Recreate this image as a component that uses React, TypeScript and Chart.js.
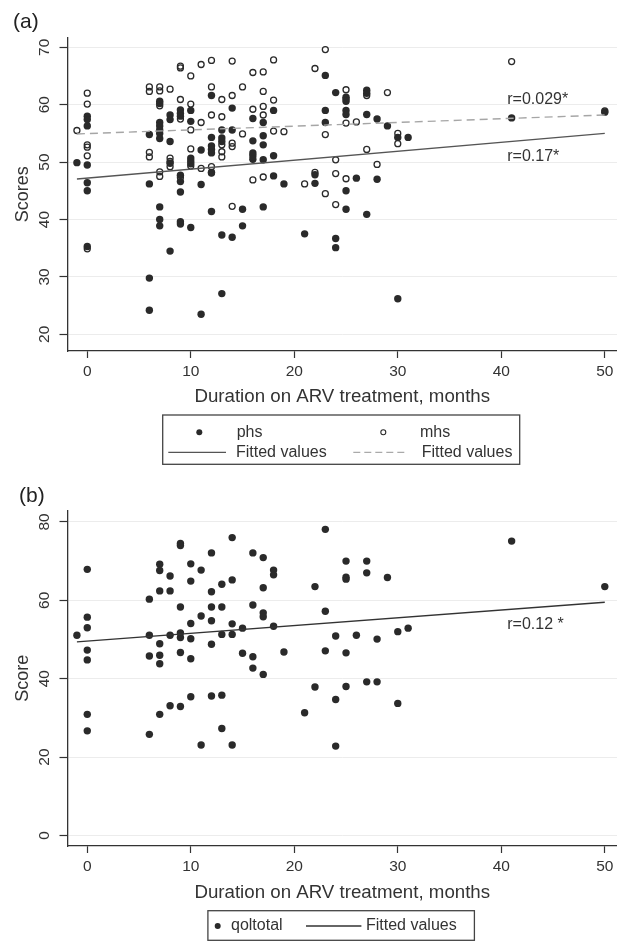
import React, { useEffect, useRef } from "react";
import { Chart, registerables } from "chart.js";

Chart.register(...registerables);

const FONT = '"Liberation Sans", Arial, Helvetica, sans-serif';
Chart.defaults.font.family = FONT;

// ---------- tick labels ----------
const monthTicks = [0, 10, 20, 30, 40, 50];
const scoreTicksA = [20, 30, 40, 50, 60, 70];
const scoreTicksB = [0, 20, 40, 60, 80];

// ---------- data: [month on ARV, scores at that month] ----------
const phs: [number, number[]][] = [
  [-1, [49.9]],
  [0, [58.0, 57.4, 56.3, 49.5, 46.4, 45.0, 35.3]],
  [6, [54.8, 46.2, 29.8, 24.2]],
  [7, [60.6, 60.2, 56.9, 56.3, 55.6, 55.0, 54.1, 42.2, 40.0, 38.9]],
  [8, [58.2, 57.4, 53.6, 49.8, 34.5]],
  [9, [59.1, 58.5, 58.0, 47.7, 46.6, 44.8, 39.6, 39.2]],
  [10, [59.0, 57.1, 50.7, 50.2, 49.7, 38.6]],
  [11, [52.1, 46.1, 23.5]],
  [12, [61.6, 54.3, 52.8, 52.2, 51.6, 48.2, 41.4]],
  [13, [55.6, 54.2, 53.6, 37.3, 27.1]],
  [14, [59.4, 55.6, 36.9]],
  [15, [41.8, 38.9]],
  [16, [57.6, 53.7, 51.6, 51.1, 50.5]],
  [17, [56.9, 54.6, 53.0, 50.4, 42.2]],
  [18, [59.0, 51.1, 47.6]],
  [19, [46.2]],
  [21, [37.5]],
  [22, [47.8, 46.3]],
  [23, [65.1, 59.0, 56.9]],
  [24, [62.1, 36.7, 35.1]],
  [25, [61.3, 60.6, 59.0, 58.3, 45.0, 41.8]],
  [26, [47.2]],
  [27, [62.5, 62.0, 58.3, 40.9]],
  [28, [57.5, 47.0]],
  [29, [56.3]],
  [30, [54.3, 26.2]],
  [31, [54.3]],
  [41, [57.7]],
  [50, [58.7]],
];

const mhs: [number, number[]][] = [
  [-1, [55.5]],
  [0, [62.0, 60.1, 53.0, 52.6, 51.1, 34.9]],
  [6, [63.1, 62.3, 51.7, 50.9]],
  [7, [63.1, 62.4, 59.8, 48.3, 47.5]],
  [8, [62.7, 50.7, 50.1, 49.2]],
  [9, [66.7, 66.4, 60.9, 57.5, 47.3]],
  [10, [65.0, 60.1, 55.6, 52.3, 49.3]],
  [11, [67.0, 56.9, 48.9]],
  [12, [67.7, 63.1, 58.2, 49.2, 48.1]],
  [13, [60.9, 57.9, 53.0, 51.8, 50.9]],
  [14, [67.6, 61.6, 53.3, 52.7, 42.3]],
  [15, [63.1, 54.9]],
  [16, [65.6, 59.2, 46.9]],
  [17, [65.7, 62.3, 59.7, 58.2, 47.4]],
  [18, [67.8, 60.8, 55.4]],
  [19, [55.3]],
  [21, [46.2]],
  [22, [66.3, 48.2]],
  [23, [69.6, 54.8, 44.5]],
  [24, [50.4, 48.0, 42.6]],
  [25, [62.6, 61.0, 56.8, 47.1]],
  [26, [57.0]],
  [27, [61.6, 52.2]],
  [28, [49.6]],
  [29, [62.1]],
  [30, [55.0, 53.2]],
  [41, [67.5]],
  [50, [58.9]],
];

const qoltotal: [number, number[]][] = [
  [-1, [51.1]],
  [0, [67.9, 55.7, 53.0, 47.3, 44.8, 30.9, 26.7]],
  [6, [60.3, 51.1, 45.8, 25.8]],
  [7, [69.2, 67.6, 62.4, 48.9, 46.0, 43.8, 30.9]],
  [8, [66.2, 62.4, 51.1, 33.1]],
  [9, [74.5, 74.0, 58.3, 51.7, 50.5, 46.7, 32.9]],
  [10, [69.3, 64.9, 54.1, 50.2, 45.1, 35.4]],
  [11, [67.7, 56.0, 23.1]],
  [12, [72.1, 62.2, 58.3, 54.8, 48.8, 35.6]],
  [13, [64.1, 58.3, 51.3, 35.8, 27.3]],
  [14, [76.0, 65.2, 54.0, 51.3, 23.1]],
  [15, [52.9, 46.5]],
  [16, [72.1, 58.8, 45.6, 42.7]],
  [17, [70.9, 63.2, 56.8, 55.8, 41.1]],
  [18, [67.7, 66.5, 53.4]],
  [19, [46.8]],
  [21, [31.3]],
  [22, [63.5, 37.9]],
  [23, [78.1, 57.2, 47.1]],
  [24, [50.9, 34.7, 22.8]],
  [25, [70.0, 65.9, 65.4, 46.6, 38.0]],
  [26, [51.1]],
  [27, [70.0, 67.0, 39.2]],
  [28, [50.1, 39.2]],
  [29, [65.8]],
  [30, [52.0, 33.7]],
  [31, [52.9]],
  [41, [75.1]],
  [50, [63.5]],
];

// fitted regression lines (end points)
const phsFit: [number, number][] = [[-1, 47.05], [50, 55.0]];
const mhsFit: [number, number][] = [[-1, 54.9], [50, 58.2]];
const qolFit: [number, number][] = [[-1, 49.4], [50, 59.5]];

// ---------- helpers ----------
const toXY = (groups: [number, number[]][]) =>
  groups.flatMap(([m, vals]) => vals.map((v) => ({ x: m, y: v })));
const lineXY = (pts: [number, number][]) => pts.map(([x, y]) => ({ x, y }));

const INK = "#2a2a2a";
const TEXT = "#333333";

type LegendItem = {
  kind: "dot" | "circle" | "line" | "dash";
  x1: number;
  x2?: number;
  y: number;
  text: string;
  tx: number;
  color?: string;
};

type PanelSpec = {
  height: number;
  top: number;
  xAxisHeight: number;
  xTitlePad: number;
  yMin: number;
  yMax: number;
  yTicks: number[];
  yTitle: string;
  label: string;
  labelX: number;
  labelY: number;
  notes: { text: string; x: number; y: number }[];
  legendBox: [number, number, number, number];
  legend: LegendItem[];
  datasets: any[];
};

function overlayPlugin(spec: PanelSpec) {
  return {
    id: "overlay",
    afterDraw(chart: any) {
      const ctx = chart.ctx as CanvasRenderingContext2D;
      const xs = chart.scales.x;
      const ys = chart.scales.y;
      ctx.save();
      ctx.fillStyle = "#222";
      ctx.textAlign = "left";
      ctx.textBaseline = "middle";
      ctx.font = `21px ${FONT}`;
      ctx.fillText(spec.label, spec.labelX, spec.labelY);

      ctx.fillStyle = TEXT;
      ctx.font = `16px ${FONT}`;
      for (const n of spec.notes) {
        ctx.fillText(n.text, xs.getPixelForValue(n.x), ys.getPixelForValue(n.y));
      }

      const [bx1, by1, bx2, by2] = spec.legendBox;
      ctx.strokeStyle = "#444";
      ctx.lineWidth = 1.3;
      ctx.strokeRect(bx1, by1, bx2 - bx1, by2 - by1);

      for (const it of spec.legend) {
        ctx.setLineDash([]);
        if (it.kind === "dot") {
          ctx.fillStyle = INK;
          ctx.beginPath();
          ctx.arc(it.x1, it.y, 3.0, 0, Math.PI * 2);
          ctx.fill();
        } else if (it.kind === "circle") {
          ctx.strokeStyle = INK;
          ctx.lineWidth = 1.1;
          ctx.beginPath();
          ctx.arc(it.x1, it.y, 2.5, 0, Math.PI * 2);
          ctx.stroke();
        } else {
          ctx.strokeStyle = it.color || "#555";
          ctx.lineWidth = 1.3;
          if (it.kind === "dash") ctx.setLineDash([7, 4]);
          ctx.beginPath();
          ctx.moveTo(it.x1, it.y);
          ctx.lineTo(it.x2 as number, it.y);
          ctx.stroke();
        }
        ctx.setLineDash([]);
        ctx.fillStyle = TEXT;
        ctx.font = `16px ${FONT}`;
        ctx.fillText(it.text, it.tx, it.y);
      }
      ctx.restore();
    },
  };
}

function Panel({ spec }: { spec: PanelSpec }) {
  const ref = useRef<HTMLCanvasElement | null>(null);
  useEffect(() => {
    if (!ref.current) return;
    const chart = new Chart(ref.current, {
      type: "scatter",
      data: { datasets: spec.datasets },
      options: {
        responsive: false,
        animation: false,
        devicePixelRatio: 1,
        layout: { autoPadding: false, padding: { top: spec.top, right: 0, bottom: 0, left: 0 } },
        plugins: { legend: { display: false }, tooltip: { enabled: false } },
        scales: {
          x: {
            type: "linear",
            min: -1.91,
            max: 51.18,
            afterBuildTicks: (s: any) => {
              s.ticks = monthTicks.map((v) => ({ value: v }));
            },
            afterFit: (s: any) => {
              s.height = spec.xAxisHeight;
              s.paddingLeft = 0;
              s.paddingRight = 0;
            },
            grid: { drawOnChartArea: false, tickColor: "#333", tickLength: 7, tickWidth: 1.2 },
            border: { color: "#333", width: 1.3 },
            ticks: { color: TEXT, font: { size: 15.5 }, padding: 4.4, maxRotation: 0, autoSkip: false },
            title: {
              display: true,
              text: "Duration on ARV treatment, months",
              color: TEXT,
              font: { size: 18.7 },
              padding: { top: 0, bottom: spec.xTitlePad },
            },
          },
          y: {
            type: "linear",
            min: spec.yMin,
            max: spec.yMax,
            afterBuildTicks: (s: any) => {
              s.ticks = spec.yTicks.map((v) => ({ value: v }));
            },
            afterFit: (s: any) => {
              s.width = 67.5;
              s.paddingTop = 0;
              s.paddingBottom = 0;
            },
            grid: { color: "#ececec", lineWidth: 1, tickColor: "#333", tickLength: 8, tickWidth: 1.2 },
            border: { color: "#333", width: 1.3 },
            ticks: {
              color: TEXT,
              font: { size: 15.5 },
              padding: 6.6,
              minRotation: 90,
              maxRotation: 90,
              crossAlign: "center",
              autoSkip: false,
            },
            title: {
              display: true,
              text: spec.yTitle,
              color: TEXT,
              font: { size: 18 },
              padding: { top: 12.5, bottom: 0 },
            },
          },
        },
      } as any,
      plugins: [overlayPlugin(spec)],
    });
    return () => chart.destroy();
  }, [spec]);
  return (
    <canvas
      ref={ref}
      width={617}
      height={spec.height}
      style={{ display: "block", width: 617, height: spec.height }}
    />
  );
}

const specA: PanelSpec = {
  height: 470,
  top: 37.5,
  xAxisHeight: 119,
  xTitlePad: 61.6,
  yMin: 17.1,
  yMax: 71.7,
  yTicks: scoreTicksA,
  yTitle: "Scores",
  label: "(a)",
  labelX: 13,
  labelY: 22.5,
  notes: [
    { text: "r=0.029*", x: 40.58, y: 60.96 },
    { text: "r=0.17*", x: 40.58, y: 51.03 },
  ],
  legendBox: [162.7, 415, 519.7, 464.3],
  legend: [
    { kind: "dot", x1: 199.3, y: 432.3, text: "phs", tx: 236.7 },
    { kind: "circle", x1: 383.3, y: 432.3, text: "mhs", tx: 420 },
    { kind: "line", x1: 168.3, x2: 226, y: 452.3, text: "Fitted values", tx: 236, color: "#555" },
    { kind: "dash", x1: 353.3, x2: 406.7, y: 452.3, text: "Fitted values", tx: 421.7, color: "#aaa" },
  ],
  datasets: [
    {
      label: "Fitted values (mhs)",
      data: lineXY(mhsFit),
      showLine: true,
      pointRadius: 0,
      borderColor: "#a6a6a6",
      borderWidth: 1.4,
      borderDash: [8, 5],
      order: 0,
    },
    {
      label: "Fitted values (phs)",
      data: lineXY(phsFit),
      showLine: true,
      pointRadius: 0,
      borderColor: "#555",
      borderWidth: 1.4,
      order: 1,
    },
    {
      label: "mhs",
      data: toXY(mhs),
      pointStyle: "circle",
      pointRadius: 3.0,
      borderWidth: 1.3,
      borderColor: INK,
      backgroundColor: "rgba(0,0,0,0)",
      order: 2,
    },
    {
      label: "phs",
      data: toXY(phs),
      pointStyle: "circle",
      pointRadius: 3.7,
      borderWidth: 0,
      backgroundColor: INK,
      order: 3,
    },
  ],
};

const specB: PanelSpec = {
  height: 471,
  top: 40.7,
  xAxisHeight: 95,
  xTitlePad: 36.6,
  yMin: -2.68,
  yMax: 82.86,
  yTicks: scoreTicksB,
  yTitle: "Score",
  label: "(b)",
  labelX: 19,
  labelY: 26,
  notes: [{ text: "r=0.12 *", x: 40.58, y: 53.9 }],
  legendBox: [207.9, 440.7, 474.4, 470.3],
  legend: [
    { kind: "dot", x1: 217.7, y: 456, text: "qoltotal", tx: 231 },
    { kind: "line", x1: 306, x2: 361.4, y: 456, text: "Fitted values", tx: 366, color: "#333" },
  ],
  datasets: [
    {
      label: "Fitted values",
      data: lineXY(qolFit),
      showLine: true,
      pointRadius: 0,
      borderColor: "#333",
      borderWidth: 1.4,
      order: 0,
    },
    {
      label: "qoltotal",
      data: toXY(qoltotal),
      pointStyle: "circle",
      pointRadius: 3.7,
      borderWidth: 0,
      backgroundColor: INK,
      order: 1,
    },
  ],
};

export default function App() {
  return (
    <div
      style={{
        position: "absolute",
        left: 0,
        top: 0,
        width: 617,
        height: 941,
        background: "#fff",
        overflow: "hidden",
      }}
    >
      <div style={{ position: "absolute", left: 0, top: 0 }}>
        <Panel spec={specA} />
      </div>
      <div style={{ position: "absolute", left: 0, top: 470 }}>
        <Panel spec={specB} />
      </div>
    </div>
  );
}
